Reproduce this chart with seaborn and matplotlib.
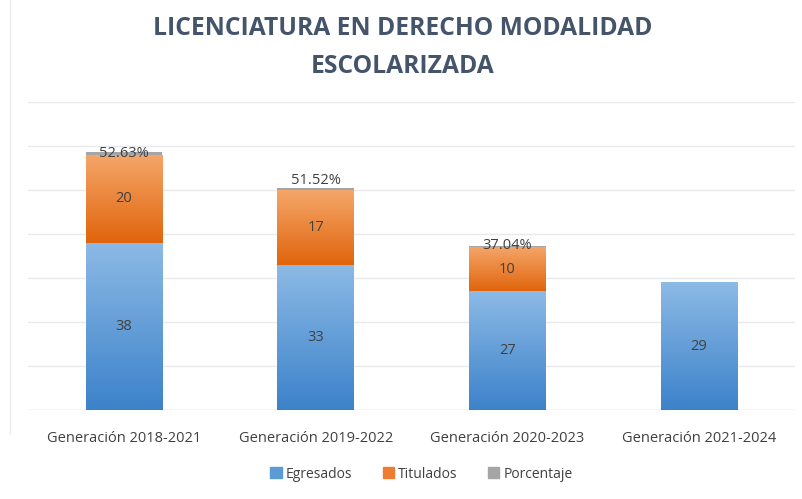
import numpy as np
import pandas as pd
import matplotlib
matplotlib.use("Agg")
import matplotlib.pyplot as plt
import matplotlib.patches as mpatches
from matplotlib.colors import LinearSegmentedColormap
import seaborn as sns

# data
generaciones = ["Generación 2018-2021", "Generación 2019-2022",
                "Generación 2020-2023", "Generación 2021-2024"]
egresados = [38, 33, 27, 29]
titulados = [20, 17, 10, 0]
porcentaje = [52.63, 51.52, 37.04, 0]

sns.set_theme(style="white")
plt.rcParams["font.family"] = ["Open Sans", "DejaVu Sans"]

fig = plt.figure(figsize=(8.03, 4.99), dpi=100)
ax = fig.add_axes([0.035, 0.178, 0.955, 0.618])

df = pd.DataFrame({"gen": generaciones, "egr": egresados, "tit": titulados,
                   "pct": [p / 100 for p in porcentaje]})
base_tit = df["egr"]
base_pct = df["egr"] + df["tit"]

blue, orange, grey = "#5B9BD5", "#ED7D31", "#A5A5A5"
sns.barplot(data=df, x="gen", y="egr", color=blue, width=0.4, ax=ax,
            saturation=1, linewidth=0)
sns.barplot(data=df, x="gen", y="tit", bottom=base_tit, color=orange, width=0.4,
            ax=ax, saturation=1, linewidth=0)
sns.barplot(data=df, x="gen", y="pct", bottom=base_pct, color=grey, width=0.4,
            ax=ax, saturation=1, linewidth=0)

# gradient fill like the original office chart
grads = {
    "#5B9BD5": LinearSegmentedColormap.from_list("b", ["#3C82CA", "#8DBAE6"]),
    "#ED7D31": LinearSegmentedColormap.from_list("o", ["#E0650C", "#F5A66A"]),
}
for p in list(ax.patches):
    fc = matplotlib.colors.to_hex(p.get_facecolor()).upper()
    if fc in grads and p.get_height() > 0:
        x0, y0 = p.get_x(), p.get_y()
        w, h = p.get_width(), p.get_height()
        im = ax.imshow(np.linspace(0, 1, 256).reshape(-1, 1), cmap=grads[fc],
                       extent=[x0, x0 + w, y0, y0 + h], origin="lower",
                       aspect="auto", zorder=p.get_zorder())
        im.set_clip_path(p)
        p.set_facecolor("none")

ax.set_xlim(-0.5, 3.5)
ax.set_ylim(0, 70)
ax.set_yticks(range(0, 71, 10))
ax.yaxis.grid(True, color="#E8EAEE", linewidth=1)
ax.set_axisbelow(True)
ax.tick_params(axis="y", left=False, labelleft=False)
ax.tick_params(axis="x", bottom=False, labelsize=10.5, labelcolor="#404040", pad=9)
ax.set_xlabel("")
ax.set_ylabel("")
for s in ax.spines.values():
    s.set_visible(False)
ax.axhline(0, color="#D9D9D9", linewidth=1, zorder=0)

lab = dict(ha="center", va="center", fontsize=10.5, color="#404040")
for i in range(len(generaciones)):
    ax.text(i, egresados[i] / 2, str(egresados[i]), **lab)
    if titulados[i]:
        ax.text(i, egresados[i] + titulados[i] / 2, str(titulados[i]), **lab)
    if porcentaje[i]:
        off = 2.2 if i == 1 else 0.3
        ax.text(i, base_pct[i] + off, f"{porcentaje[i]:.2f}%", **lab)

fig.text(0.502, 0.942, "LICENCIATURA EN DERECHO MODALIDAD", ha="center", va="center",
         fontsize=17.7, fontweight="bold", color="#44546A")
fig.text(0.502, 0.866, "ESCOLARIZADA", ha="center", va="center",
         fontsize=17.7, fontweight="bold", color="#44546A")

handles = [mpatches.Patch(color=c, label=l) for c, l in
           [(blue, "Egresados"), (orange, "Titulados"), (grey, "Porcentaje")]]
fig.legend(handles=handles, loc="center", bbox_to_anchor=(0.525, 0.05), ncol=3,
           frameon=False, fontsize=10, handlelength=0.8, handleheight=0.8,
           handletextpad=0.3, columnspacing=2.2, labelcolor="#404040")

fig.add_artist(plt.Line2D([0.0125, 0.0125], [0.13, 1.0], transform=fig.transFigure,
                          color="#EEEEEE", linewidth=1))

fig.savefig("out.png", dpi=100)
